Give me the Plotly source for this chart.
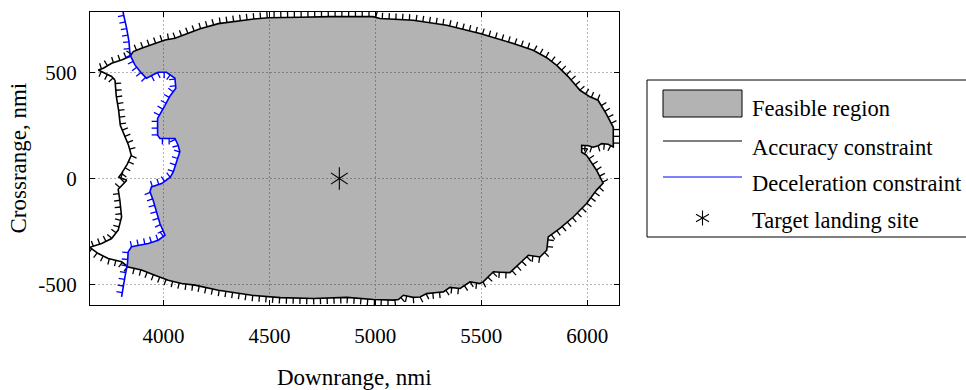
import numpy as np
import plotly.graph_objects as go

# ---------------- data (nmi) ----------------
# Accuracy constraint, outer branch (top -> right -> bottom)
acc_outer_x = [3692, 3716, 3755, 3802, 3842, 3857, 3896, 3959, 4007, 4054,
               4117, 4173, 4259, 4338, 4417, 4495, 4551, 4645, 4786, 4928,
               4989, 5022, 5179, 5337, 5494, 5651, 5745, 5809, 5856, 5909,
               5966, 6013, 6051, 6088, 6123, 6123, 6099, 6068, 6052, 6028,
               6005, 5974, 5974, 5997, 6013, 6044, 6075, 6044, 5997, 5934,
               5871, 5816, 5809, 5777, 5722, 5683, 5635, 5588, 5557, 5509,
               5494, 5447, 5400, 5352, 5321, 5290, 5242, 5211, 5179, 5132,
               5109, 5085, 4991, 4865, 4708, 4551, 4417, 4259, 4148, 4085,
               4022, 3959, 3896, 3833, 3802, 3739, 3692, 3660, 3626]
acc_outer_y = [513, 521, 545, 560, 577, 600, 616, 639, 655, 663,
               687, 708, 732, 743, 753, 760, 760, 762, 765, 765,
               765, 756, 748, 724, 685, 638, 606, 571, 535, 483,
               417, 386, 370, 309, 242, 149, 162, 165, 155, 148,
               155, 157, 124, 110, 86, 39, -22, -55, -118, -182,
               -236, -276, -339, -371, -363, -402, -445, -443, -441, -489,
               -496, -489, -520, -515, -536, -539, -544, -560, -562, -552,
               -572, -575, -572, -562, -567, -563, -552, -528, -504, -496,
               -481, -457, -433, -418, -394, -378, -355, -331, -306]

# Accuracy constraint, inner (left) branch in three pieces
acc_left1_x = [3692, 3708, 3755, 3771]
acc_left1_y = [513, 506, 482, 465]
acc_left2_x = [3771, 3777, 3788, 3796, 3815, 3835, 3848, 3829, 3802, 3789, 3827]
acc_left2_y = [465, 389, 323, 252, 205, 157, 110, 68, 24, 6, -8]
acc_left3_x = [3827, 3802, 3786, 3794, 3802, 3786, 3755, 3708, 3660, 3626]
acc_left3_y = [-8, -32, -51, -103, -182, -244, -284, -307, -325, -334]

# Deceleration constraint
dec_x = [3808, 3810, 3826, 3837, 3842, 3865, 3896, 3920, 3951, 3975,
         4014, 4054, 4058, 4030, 4007, 3983, 3972, 3972, 3983, 4054,
         4069, 4077, 4061, 4046, 4032, 3991, 3943, 3936, 3951, 3967,
         3983, 4007, 3975, 3928, 3849, 3833, 3830, 3818, 3802]
dec_y = [819, 781, 710, 647, 584, 537, 498, 474, 490, 502,
         502, 474, 427, 389, 346, 307, 284, 205, 189, 189,
         157, 126, 78, 31, 6, -24, -40, -63, -103, -165,
         -213, -268, -292, -307, -323, -347, -402, -465, -560]

# Target landing site
target_x = [4830]
target_y = [0]

# Axes
x_ticks = [4000, 4500, 5000, 5500, 6000]
x_ticktext = ["4000", "4500", "5000", "5500", "6000"]
y_ticks = [-500, 0, 500]
y_ticktext = ["-500", "0", "500"]
x_range = [3653, 6150]
y_range = [-598, 787]

legend_labels = ["Feasible region", "Accuracy constraint",
                 "Deceleration constraint", "Target landing site"]

# ---------------- helpers ----------------
W, H = 966, 390
FONT = "Liberation Serif"


def fx(px):
    return px / W


def fy(py):
    return 1 - py / H


def hatch(xs, ys, side, spacing=32.0, length=28.0):
    P = np.column_stack([xs, ys]).astype(float)
    seg = np.diff(P, axis=0)
    seglen = np.hypot(seg[:, 0], seg[:, 1])
    cum = np.concatenate([[0.0], np.cumsum(seglen)])
    hx, hy = [], []
    for s in np.arange(spacing / 2, cum[-1], spacing):
        i = int(min(np.searchsorted(cum, s, side="right") - 1, len(seg) - 1))
        f = (s - cum[i]) / seglen[i]
        p = P[i] + f * seg[i]
        t = seg[i] / seglen[i]
        n = np.array([-t[1], t[0]]) * side
        q = p + length * n
        hx += [p[0], q[0], None]
        hy += [p[1], q[1], None]
    return hx, hy


def intersections(P, Q):
    hits = []
    for i in range(len(P) - 1):
        p1, p2 = P[i], P[i + 1]
        d1 = p2 - p1
        for j in range(len(Q) - 1):
            q1, q2 = Q[j], Q[j + 1]
            d2 = q2 - q1
            den = d1[0] * d2[1] - d1[1] * d2[0]
            if abs(den) < 1e-12:
                continue
            r = q1 - p1
            t = (r[0] * d2[1] - r[1] * d2[0]) / den
            u = (r[0] * d1[1] - r[1] * d1[0]) / den
            if 0 <= t <= 1 and 0 <= u <= 1:
                hits.append((i + t, j + u, p1 + t * d1))
    hits.sort(key=lambda h: h[0])
    return hits


# ---------------- feasible region polygon ----------------
P = np.column_stack([acc_outer_x, acc_outer_y]).astype(float)
Q = np.column_stack([dec_x, dec_y]).astype(float)
hits = intersections(P, Q)
(sa, ua, pa), (sb, ub, pb) = hits[0], hits[-1]
ia, ib = int(np.floor(sa)), int(np.floor(sb))
ja, jb = int(np.floor(ua)), int(np.floor(ub))
poly = [pa] + list(P[ia + 1:ib + 1]) + [pb] + [Q[k] for k in range(jb, ja, -1)] + [pa]
poly = np.array(poly)

fig = go.Figure()

fig.add_trace(go.Scatter(x=poly[:, 0], y=poly[:, 1], mode="lines", fill="toself",
                         fillcolor="rgba(0,0,0,0.298)", line=dict(width=0),
                         hoverinfo="skip", showlegend=False))

black_sets = [(acc_outer_x, acc_outer_y, 1), (acc_left1_x, acc_left1_y, -1),
              (acc_left2_x, acc_left2_y, 1), (acc_left3_x, acc_left3_y, -1)]
for xs, ys, side in black_sets:
    hx, hy = hatch(xs, ys, side)
    fig.add_trace(go.Scatter(x=hx, y=hy, mode="lines",
                             line=dict(color="black", width=1.3),
                             hoverinfo="skip", showlegend=False))
    fig.add_trace(go.Scatter(x=xs, y=ys, mode="lines",
                             line=dict(color="black", width=1.6),
                             hoverinfo="skip", showlegend=False))

hx, hy = hatch(dec_x, dec_y, -1)
fig.add_trace(go.Scatter(x=hx, y=hy, mode="lines", line=dict(color="#0000ff", width=1.3),
                         hoverinfo="skip", showlegend=False))
fig.add_trace(go.Scatter(x=dec_x, y=dec_y, mode="lines", line=dict(color="#0000ff", width=1.6),
                         hoverinfo="skip", showlegend=False))

for sym in ["y-up-open", "y-down-open"]:
    fig.add_trace(go.Scatter(x=target_x, y=target_y, mode="markers",
                             marker=dict(symbol=sym, size=14, color="black",
                                         line=dict(color="black", width=1.1)),
                             hoverinfo="skip", showlegend=False))

axis_common = dict(showline=True, linecolor="black", linewidth=1, mirror="ticks",
                   ticks="inside", ticklen=5, tickwidth=1, tickcolor="black",
                   showgrid=True, gridcolor="#b4b4b4", gridwidth=1, griddash="2px,2px",
                   zeroline=False, tickfont=dict(family=FONT, size=21, color="black"),
                   fixedrange=True)

fig.update_layout(
    width=W, height=H, margin=dict(l=0, r=0, t=0, b=0),
    paper_bgcolor="white", plot_bgcolor="white",
    xaxis=dict(domain=[fx(90), fx(619)], range=x_range, tickvals=x_ticks,
               ticktext=x_ticktext, ticklabelstandoff=12, **axis_common),
    yaxis=dict(domain=[fy(305), fy(12)], range=y_range, tickvals=y_ticks,
               ticktext=y_ticktext, ticklabelstandoff=8, **axis_common),
    showlegend=False,
)

annotations = [
    dict(text="Downrange, nmi", x=fx(354.5), y=fy(377), xref="paper", yref="paper",
         showarrow=False, xanchor="center", yanchor="middle",
         font=dict(family=FONT, size=23, color="black")),
    dict(text="Crossrange, nmi", x=fx(18), y=fy(158.5), xref="paper", yref="paper",
         showarrow=False, xanchor="center", yanchor="middle", textangle=-90,
         font=dict(family=FONT, size=23, color="black")),
]

# ---------------- manual legend ----------------
shapes = []
shapes.append(dict(type="rect", xref="paper", yref="paper", x0=fx(647), x1=fx(990),
                   y0=fy(237), y1=fy(80), line=dict(color="black", width=1),
                   fillcolor="white", layer="above"))
shapes.append(dict(type="rect", xref="paper", yref="paper", x0=fx(663), x1=fx(742),
                   y0=fy(117), y1=fy(90), line=dict(color="black", width=1),
                   fillcolor="#b3b3b3", layer="above"))
shapes.append(dict(type="line", xref="paper", yref="paper", x0=fx(663), x1=fx(742),
                   y0=fy(141), y1=fy(141), line=dict(color="black", width=1.2), layer="above"))
shapes.append(dict(type="line", xref="paper", yref="paper", x0=fx(663), x1=fx(742),
                   y0=fy(177), y1=fy(177), line=dict(color="#0000ff", width=1.2), layer="above"))
cx, cy, r = 702.5, 218.0, 7.5
for ang in [90, 30, 150]:
    a = np.deg2rad(ang)
    shapes.append(dict(type="line", xref="paper", yref="paper",
                       x0=fx(cx - r * np.cos(a)), x1=fx(cx + r * np.cos(a)),
                       y0=fy(cy + r * np.sin(a)), y1=fy(cy - r * np.sin(a)),
                       line=dict(color="black", width=1.1), layer="above"))

for lab, ty in zip(legend_labels, [108, 147, 183, 220]):
    annotations.append(dict(text=lab, x=fx(750), y=fy(ty), xref="paper", yref="paper",
                            showarrow=False, xanchor="left", yanchor="middle",
                            font=dict(family=FONT, size=22.5, color="black")))

fig.update_layout(shapes=shapes, annotations=annotations)

fig.write_html("out.html")
